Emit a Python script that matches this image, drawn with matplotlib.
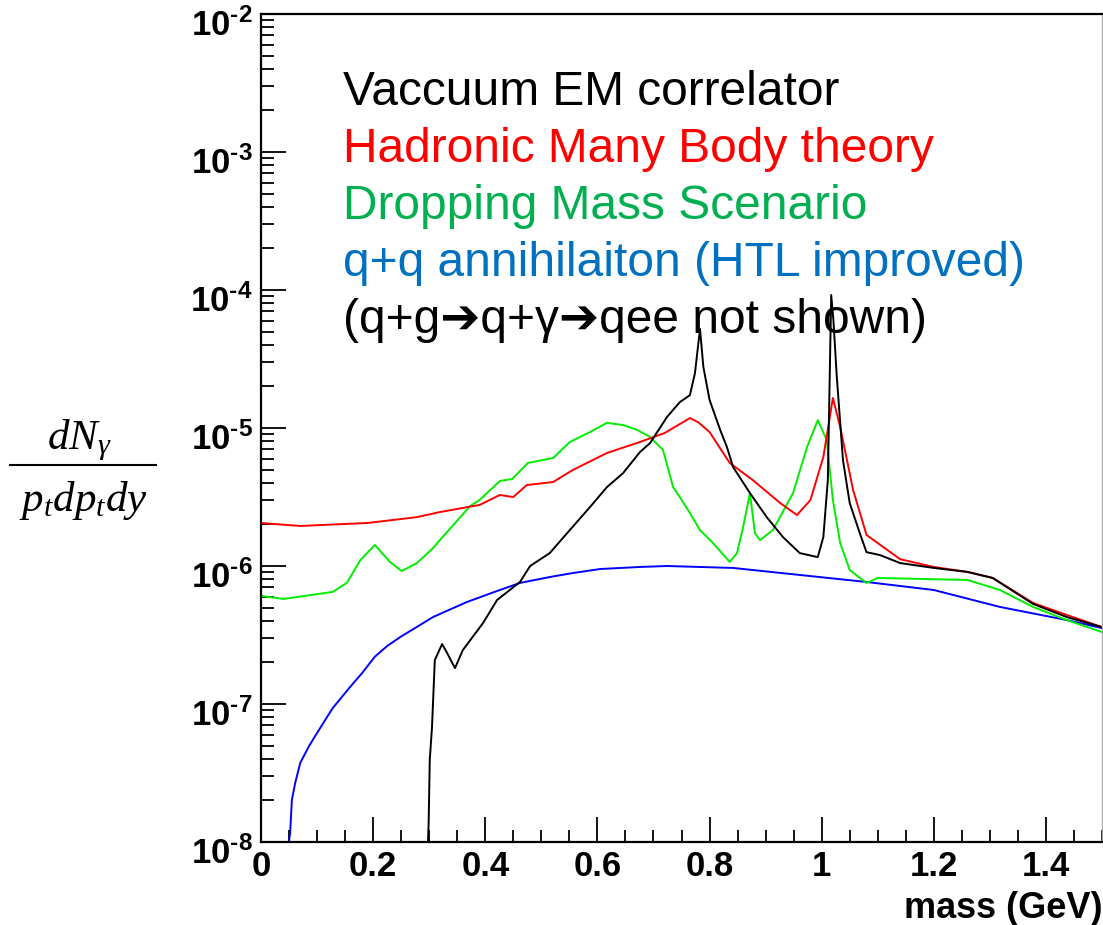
import numpy as np
import matplotlib
matplotlib.use("Agg")
import matplotlib.pyplot as plt
import matplotlib.transforms as mtransforms
from matplotlib.ticker import FixedLocator, FuncFormatter, NullFormatter, LogLocator
from matplotlib.lines import Line2D

plt.rcParams['mathtext.default'] = 'regular'

# Vacuum EM correlator (black)
vac_m = [0.297, 0.299, 0.301, 0.305, 0.31, 0.323, 0.332, 0.346, 0.36, 0.396, 0.421, 0.462,
         0.48, 0.515, 0.546, 0.587, 0.617, 0.646, 0.676, 0.694, 0.724, 0.747, 0.765, 0.774,
         0.783, 0.789, 0.80, 0.819, 0.831, 0.842, 0.872, 0.902, 0.931, 0.961, 0.993, 1.003,
         1.011, 1.017, 1.021, 1.027, 1.038, 1.05, 1.068, 1.08, 1.104, 1.14, 1.2, 1.26, 1.305,
         1.377, 1.437, 1.5]
vac_y = [8e-9, 1.37e-8, 3.93e-8, 6.81e-8, 2.08e-7, 2.72e-7, 2.34e-7, 1.82e-7, 2.46e-7, 3.86e-7,
         5.67e-7, 7.66e-7, 1.0e-6, 1.24e-6, 1.73e-6, 2.68e-6, 3.73e-6, 4.72e-6, 6.70e-6, 7.78e-6,
         1.20e-5, 1.54e-5, 1.73e-5, 2.50e-5, 5.22e-5, 2.77e-5, 1.60e-5, 9.68e-6, 7.28e-6, 5.21e-6,
         3.38e-6, 2.26e-6, 1.62e-6, 1.24e-6, 1.16e-6, 1.62e-6, 4.20e-6, 9.2e-5, 6.0e-5, 2.34e-5,
         5.86e-6, 2.86e-6, 1.73e-6, 1.26e-6, 1.20e-6, 1.05e-6, 9.68e-7, 9.06e-7, 8.19e-7, 5.31e-7,
         4.27e-7, 3.61e-7]

# Hadronic many body theory (red)
hmbt_m = [0.0, 0.07, 0.19, 0.278, 0.319, 0.39, 0.426, 0.45, 0.474, 0.521, 0.556, 0.617, 0.676,
          0.72, 0.765, 0.78, 0.80, 0.836, 0.877, 0.926, 0.956, 0.98, 1.003, 1.02, 1.033, 1.056,
          1.08, 1.11, 1.14, 1.2, 1.26, 1.305, 1.377, 1.437, 1.5]
hmbt_y = [2.05e-6, 1.95e-6, 2.05e-6, 2.26e-6, 2.46e-6, 2.77e-6, 3.27e-6, 3.16e-6, 3.86e-6,
          4.06e-6, 4.96e-6, 6.59e-6, 7.92e-6, 9.2e-6, 1.18e-5, 1.10e-5, 9.35e-6, 5.58e-6, 4.20e-6,
          2.86e-6, 2.34e-6, 3.01e-6, 6.17e-6, 1.65e-5, 1.02e-5, 3.56e-6, 1.68e-6, 1.37e-6, 1.12e-6,
          9.84e-7, 9.06e-7, 8.19e-7, 5.40e-7, 4.42e-7, 3.61e-7]

# Dropping mass scenario (green)
dms_m = [0.0, 0.04, 0.128, 0.153, 0.177, 0.203, 0.23, 0.251, 0.278, 0.307, 0.319, 0.373, 0.39,
         0.426, 0.448, 0.476, 0.521, 0.551, 0.587, 0.617, 0.646, 0.671, 0.694, 0.717, 0.735,
         0.747, 0.765, 0.783, 0.806, 0.836, 0.849, 0.86, 0.872, 0.881, 0.89, 0.913, 0.949, 0.974,
         0.993, 1.009, 1.02, 1.033, 1.05, 1.08, 1.10, 1.26, 1.318, 1.377, 1.437, 1.5]
dms_y = [6.07e-7, 5.77e-7, 6.49e-7, 7.54e-7, 1.10e-6, 1.42e-6, 1.07e-6, 9.2e-7, 1.05e-6, 1.35e-6,
         1.54e-6, 2.72e-6, 3.01e-6, 4.13e-6, 4.27e-6, 5.58e-6, 6.06e-6, 7.92e-6, 9.35e-6, 1.09e-5,
         1.05e-5, 9.68e-6, 8.61e-6, 6.93e-6, 3.73e-6, 3.16e-6, 2.42e-6, 1.82e-6, 1.47e-6, 1.07e-6,
         1.24e-6, 1.92e-6, 3.38e-6, 1.73e-6, 1.54e-6, 1.82e-6, 3.38e-6, 7.28e-6, 1.14e-5, 8.18e-6,
         3.01e-6, 1.47e-6, 9.35e-7, 7.54e-7, 8.19e-7, 7.92e-7, 6.70e-7, 5.05e-7, 4.06e-7, 3.32e-7]

# q+qbar annihilation, HTL improved (blue)
qq_m = [0.046, 0.052, 0.055, 0.061, 0.07, 0.085, 0.1, 0.128, 0.159, 0.18, 0.203, 0.225, 0.248,
        0.307, 0.367, 0.426, 0.462, 0.515, 0.556, 0.605, 0.676, 0.724, 0.842, 0.961, 1.08, 1.2,
        1.318, 1.437, 1.5]
qq_y = [8e-9, 1.16e-8, 2.01e-8, 2.68e-8, 3.74e-8, 4.9e-8, 6.17e-8, 9.35e-8, 1.33e-7, 1.67e-7,
        2.2e-7, 2.63e-7, 3.05e-7, 4.27e-7, 5.48e-7, 6.70e-7, 7.54e-7, 8.32e-7, 8.89e-7, 9.51e-7,
        9.84e-7, 1.0e-6, 9.68e-7, 8.61e-7, 7.66e-7, 6.70e-7, 5.05e-7, 4.06e-7, 3.55e-7]

legend_lines = ["Vaccuum EM correlator", "Hadronic Many Body theory", "Dropping Mass Scenario",
                "q+q annihilaiton (HTL improved)", "(q+g\u2794q+\u03b3\u2794qee not shown)"]
legend_colors = ["black", "#ff0000", "#00b050", "#0070c0", "black"]

fig = plt.figure(figsize=(11.03, 9.25), dpi=100)
ax = fig.add_axes([261 / 1103, 83 / 925, 841 / 1103, 828 / 925])

ax.plot(qq_m, qq_y, color="#0000ff", lw=1.4)
ax.plot(dms_m, dms_y, color="#00ee00", lw=1.4)
ax.plot(hmbt_m, hmbt_y, color="#ff0000", lw=1.4)
ax.plot(vac_m, vac_y, color="black", lw=1.4)

ax.set_yscale("log")
ax.set_xlim(0, 1.5)
ax.set_ylim(1e-8, 1e-2)

ax.xaxis.set_major_locator(FixedLocator(np.arange(0, 1.41, 0.2)))
ax.xaxis.set_minor_locator(FixedLocator(np.arange(0, 1.51, 0.05)))
ax.xaxis.set_major_formatter(FuncFormatter(lambda v, p: "0" if abs(v) < 1e-9 else ("%g" % round(v, 1))))
ax.yaxis.set_major_locator(FixedLocator([1e-8, 1e-7, 1e-6, 1e-5, 1e-4, 1e-3, 1e-2]))
ax.yaxis.set_minor_locator(LogLocator(base=10, subs=np.arange(2, 10), numticks=20))
ax.yaxis.set_minor_formatter(NullFormatter())
ax.yaxis.set_major_formatter(
    FuncFormatter(lambda v, p: "$10^{\u2010%d}$" % abs(round(np.log10(v)))))

ax.tick_params(which="major", direction="in", length=18, width=1.3, top=False, right=False,
               labelsize=25, pad=6)
ax.tick_params(which="minor", direction="in", length=9, width=1.3, top=False, right=False)
for lab in ax.get_xticklabels() + ax.get_yticklabels():
    lab.set_fontweight("bold")
    lab.set_family("Liberation Sans")

# ROOT puts the "10" of the label slightly below the tick
shift = mtransforms.ScaledTranslation(0, -8 / 100, fig.dpi_scale_trans)
for tick in ax.yaxis.get_major_ticks():
    tick.label1.set_transform(tick.label1.get_transform() + shift)

for side in ["left", "bottom", "top"]:
    ax.spines[side].set_linewidth(1.6)
ax.spines["right"].set_color("#aaaaaa")
ax.spines["right"].set_linewidth(1)

fig.text(1102 / 1103, 1 - 918 / 925, "mass (GeV)", ha="right", va="baseline",
         fontsize=26, fontweight="bold", family="Liberation Sans")

# legend-like text block
for i, (txt, col) in enumerate(zip(legend_lines, legend_colors)):
    fig.text(343 / 1103, 1 - (105 + 57 * i) / 925, txt, color=col, fontsize=34.5,
             family=["Liberation Sans", "DejaVu Sans"], va="baseline", ha="left")

# y-axis label as a fraction
fig.text(80 / 1103, 1 - 449 / 925, r"$dN_{\gamma}$", ha="center", va="baseline",
         fontsize=31, family="Liberation Serif", style="italic", math_fontfamily="stix")
fig.text(83 / 1103, 1 - 511 / 925, r"$p_{t}dp_{t}dy$", ha="center", va="baseline",
         fontsize=31, family="Liberation Serif", style="italic", math_fontfamily="stix")
fig.add_artist(Line2D([10 / 1103, 156 / 1103], [1 - 465 / 925, 1 - 465 / 925],
                      color="black", lw=1.5, transform=fig.transFigure))

fig.savefig("out.png", dpi=100)
